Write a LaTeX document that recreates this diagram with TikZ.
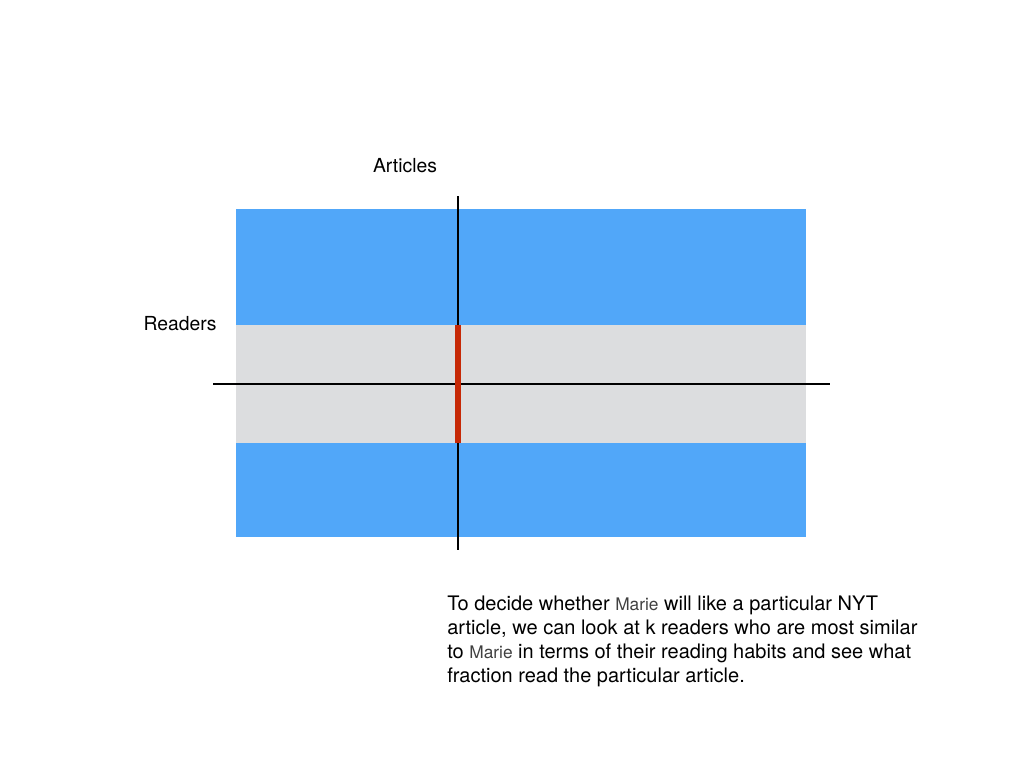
\documentclass[tikz,border=0pt]{standalone}
\usepackage{fontspec}
\setmainfont{TeX Gyre Heros}
\usepackage{xcolor}
\usepackage{tikz}
\usetikzlibrary{positioning}
\definecolor{sky}{HTML}{51A7F9}
\definecolor{band}{HTML}{DCDDDF}
\definecolor{pick}{HTML}{C62806}
\definecolor{namegray}{HTML}{404040}
\newcommand{\marie}{{\fontsize{13}{18}\selectfont\color{namegray}Marie}}

\begin{document}
\begin{tikzpicture}[x=0.75pt,y=-0.75pt,font=\fontsize{14.5}{18}\selectfont]
  \useasboundingbox (0,0) rectangle (1024,768);
  % matrix
  \fill[sky] (236,209) rectangle (806,537);
  \fill[band] (236,325) rectangle (806,443);
  % axes
  \coordinate (vtop) at (458,196);
  \coordinate (vbot) at (458,550);
  \coordinate (hleft) at (213,384);
  \coordinate (hright) at (830,384);
  \draw[line width=1.5pt] (vtop) -- (vbot);
  \draw[line width=1.5pt] (hleft) -- (hright);
  % chosen entries
  \coordinate (ptop) at (458,325);
  \coordinate (pbot) at (458,443);
  \draw[pick,line width=5pt] (ptop) -- (pbot);
  % labels
  \node (articles) at (405,166) {Articles};
  \node (readers) at (180,324) {Readers};
  \node[anchor=base west,align=left,inner sep=0pt,font=\fontsize{15}{18}\selectfont]
    (note) at (447,682)
    {To decide whether \marie{} will like a particular NYT\\
     article, we can look at k readers who are most similar\\
     to \marie{} in terms of their reading habits and see what\\
     fraction read the particular article.};
\end{tikzpicture}
\end{document}
